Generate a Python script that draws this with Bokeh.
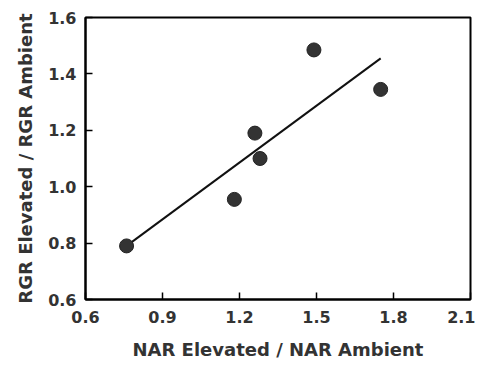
from bokeh.plotting import figure
from bokeh.models import Range1d, FixedTicker, NumeralTickFormatter
from bokeh.embed import file_html
from bokeh.resources import INLINE

# data
nar_ratio = [0.76, 1.18, 1.26, 1.28, 1.49, 1.75]
rgr_ratio = [0.79, 0.955, 1.19, 1.10, 1.485, 1.345]
fit_x = [0.76, 1.75]
fit_y = [0.79, 1.455]
x_ticks = [0.6, 0.9, 1.2, 1.5, 1.8, 2.1]
y_ticks = [0.6, 0.8, 1.0, 1.2, 1.4, 1.6]

FONT = "DejaVu Sans"
INK = "#333333"

p = figure(width=475, height=363, output_backend="svg", toolbar_location=None,
           x_range=Range1d(0.6, 2.1), y_range=Range1d(0.6, 1.6),
           min_border_left=85, min_border_right=5, min_border_top=17, min_border_bottom=64)

p.grid.visible = False
p.outline_line_color = "black"
p.outline_line_width = 2
p.background_fill_color = "white"
p.border_fill_color = "white"

p.line(fit_x, fit_y, line_color="#111111", line_width=2)
p.scatter(nar_ratio, rgr_ratio, size=14, fill_color="#333333", line_color="#222222")

for ax, ticks in ((p.xaxis[0], x_ticks), (p.yaxis[0], y_ticks)):
    ax.ticker = FixedTicker(ticks=ticks)
    ax.formatter = NumeralTickFormatter(format="0.0")
    ax.major_tick_in = 7
    ax.major_tick_out = 0
    ax.minor_tick_in = 0
    ax.minor_tick_out = 0
    ax.axis_line_color = "black"
    ax.axis_line_width = 2
    ax.major_tick_line_color = "black"
    ax.major_tick_line_width = 1.5
    ax.major_label_text_font = FONT
    ax.major_label_text_font_style = "bold"
    ax.major_label_text_font_size = "16px"
    ax.major_label_text_color = INK
    ax.axis_label_text_font = FONT
    ax.axis_label_text_font_style = "bold"
    ax.axis_label_text_font_size = "18px"
    ax.axis_label_text_color = INK

p.xaxis.axis_label = "NAR Elevated / NAR Ambient"
p.yaxis.axis_label = "RGR Elevated / RGR Ambient"
p.xaxis.major_label_standoff = 11
p.yaxis.major_label_standoff = 9
p.xaxis.axis_label_standoff = 13
p.yaxis.axis_label_standoff = 9

open("out.html", "w").write(file_html(p, INLINE))
